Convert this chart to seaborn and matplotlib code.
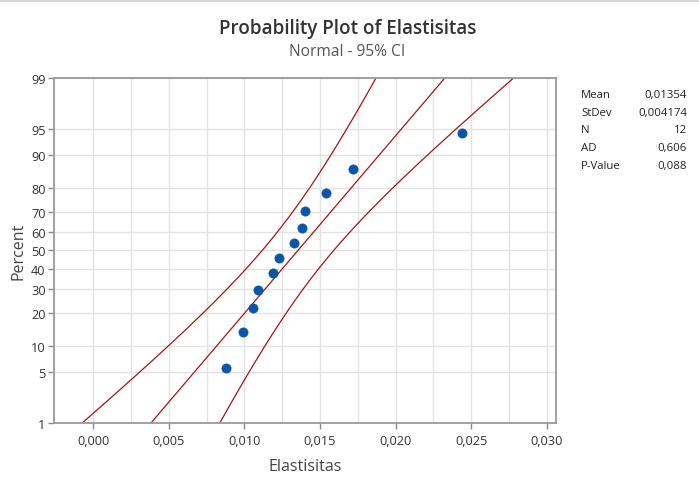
from statistics import NormalDist

import matplotlib
matplotlib.use("Agg")
import matplotlib.pyplot as plt
from matplotlib.lines import Line2D
import numpy as np
import pandas as pd
import seaborn as sns

# Sample of elasticity values
elastisitas = [0.0088, 0.0099, 0.0106, 0.0109, 0.0119, 0.0123,
               0.0133, 0.0138, 0.0140, 0.0154, 0.0172, 0.0244]

# Summary statistics shown in the side table
mean = 0.01354
stdev = 0.004174
n_obs = 12
ad_stat = 0.606
p_value = 0.088

percent_ticks = [1, 5, 10, 20, 30, 40, 50, 60, 70, 80, 90, 95, 99]
x_ticks = [0.000, 0.005, 0.010, 0.015, 0.020, 0.025, 0.030]

sns.set_theme(style="white")
plt.rcParams["font.family"] = ["Open Sans", "DejaVu Sans"]

nd = NormalDist()

# Median-rank plotting positions on the normal-quantile scale
xs = np.sort(np.array(elastisitas))
ranks = np.arange(1, len(xs) + 1)
pp = (ranks - 0.3) / (len(xs) + 0.4)
pts = pd.DataFrame({"x": xs, "z": [nd.inv_cdf(p) for p in pp]})

# Fitted line and 95% confidence bands for the percentiles
z_grid = np.linspace(nd.inv_cdf(0.01), nd.inv_cdf(0.99), 200)
fit = mean + z_grid * stdev
se = stdev * np.sqrt(1.0 / n_obs + z_grid ** 2 / (2.0 * n_obs))
zc = nd.inv_cdf(0.975)
lines = pd.concat([
    pd.DataFrame({"x": fit, "z": z_grid, "kind": "fit"}),
    pd.DataFrame({"x": fit - zc * se, "z": z_grid, "kind": "lower"}),
    pd.DataFrame({"x": fit + zc * se, "z": z_grid, "kind": "upper"}),
])

fig = plt.figure(figsize=(6.99, 4.85), dpi=100)
ax = fig.add_axes([0.0773, 0.1258, 0.7181, 0.7113])

grid_c = "#e3e3e3"
for gx in np.arange(0.0, 0.0301, 0.0025):
    ax.axvline(gx, color=grid_c, lw=1.0, zorder=0)
for p in percent_ticks:
    ax.axhline(nd.inv_cdf(p / 100), color=grid_c, lw=1.0, zorder=0)

line_c = "#a31515"
for kind in ["fit", "lower", "upper"]:
    sns.lineplot(data=lines[lines["kind"] == kind], x="x", y="z", sort=False,
                 estimator=None, color=line_c, lw=0.9, ax=ax, zorder=2)

sns.scatterplot(data=pts, x="x", y="z", color="#0a55a5", s=44,
                edgecolor="#0a55a5", linewidth=0.5, ax=ax, zorder=3)

ax.set_xlim(-0.00258, 0.0306)
ax.set_ylim(nd.inv_cdf(0.01), nd.inv_cdf(0.99))
ax.set_xticks(x_ticks)
ax.set_xticklabels([f"{v:.3f}".replace(".", ",") for v in x_ticks])
ax.set_yticks([nd.inv_cdf(p / 100) for p in percent_ticks])
ax.set_yticklabels([str(p) for p in percent_ticks])

tick_c = "#333333"
ax.tick_params(axis="both", which="major", length=4, width=1, color="#888888",
               labelsize=9.2, labelcolor=tick_c, direction="out", pad=2,
               bottom=True, left=True)
ax.tick_params(axis="x", pad=4)
for s in ax.spines.values():
    s.set_color("#9a9a9a")
    s.set_linewidth(1.3)

ax.set_xlabel("Elastisitas", fontsize=11.5, color="#444444", labelpad=8)
ax.set_ylabel("Percent", fontsize=11.5, color="#444444", labelpad=3)

fig.text(0.497, 0.940, "Probability Plot of Elastisitas", ha="center", va="center",
         fontsize=13.6, fontweight="semibold", color="#333333")
fig.text(0.497, 0.893, "Normal - 95% CI", ha="center", va="center",
         fontsize=11.2, color="#555555")

# Side table of statistics
rows = [("Mean", f"{mean:.5f}".replace(".", ",")),
        ("StDev", f"{stdev:.6f}".replace(".", ",")),
        ("N", str(n_obs)),
        ("AD", f"{ad_stat:.3f}".replace(".", ",")),
        ("P-Value", f"{p_value:.3f}".replace(".", ","))]
for i, (lab, val) in enumerate(rows):
    yy = 1 - (95.5 + i * 17.7) / 485
    fig.text(581 / 699, yy, lab, ha="left", va="center", fontsize=8.2, color="#222222")
    fig.text(687 / 699, yy, val, ha="right", va="center", fontsize=8.2, color="#222222")

fig.add_artist(Line2D([0, 1], [0.996, 0.996], color="#d0d0d0", lw=1.2,
                      transform=fig.transFigure))

fig.savefig("out.png", dpi=100, facecolor="white")
